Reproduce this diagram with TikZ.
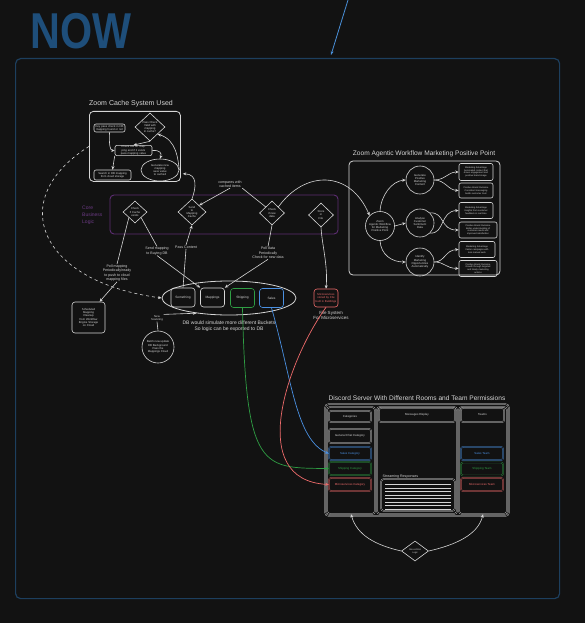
\documentclass[tikz,border=0pt]{standalone}
\usepackage{graphicx}
\usepackage{fontspec}
\setmainfont{Liberation Sans}
\usetikzlibrary{shapes.geometric,arrows.meta,calc}
\definecolor{bgc}{HTML}{121212}
\definecolor{fgc}{HTML}{D6D6D6}
\definecolor{framec}{HTML}{1D3F5E}
\definecolor{nowc}{HTML}{1E4E7A}
\definecolor{arrc}{HTML}{4A90D9}
\definecolor{purc}{HTML}{5C2D72}
\definecolor{purt}{HTML}{6B3A84}
\definecolor{grc}{HTML}{2F9E44}
\definecolor{blc}{HTML}{4A90E2}
\definecolor{rdc}{HTML}{EE6B6B}
\newcommand\mytiny{\fontsize{2.8}{3.3}\selectfont}
\newcommand\myteeny{\fontsize{2.3}{2.8}\selectfont}
\newcommand\mysmall{\fontsize{3.6}{4.3}\selectfont}
\newcommand\mytitle{\fontsize{6.6}{8}\selectfont}
\tikzset{
 ln/.style={draw=fgc, line width=0.6pt},
 arr/.style={ln, -{Stealth[length=3.5pt,width=3pt]}},
 rbox/.style={draw=fgc, line width=0.6pt, rounded corners=2pt, text=fgc, font=\mytiny, align=center, inner sep=0.5pt},
 dbox/.style={rbox, double=bgc, double distance=0.7pt, line width=0.35pt},
 dia/.style={diamond, draw=fgc, line width=0.6pt, text=fgc, font=\mytiny, align=center, inner sep=0pt},
 circ/.style={circle, draw=fgc, line width=0.6pt, text=fgc, font=\mytiny, align=center, inner sep=0pt},
 lbl/.style={text=fgc, font=\mysmall, align=center, inner sep=0.5pt},
 ttl/.style={text=fgc, font=\mytitle, inner sep=0pt},
 bucket/.style={rbox, rounded corners=3pt, minimum width=24pt, minimum height=19pt, font=\fontsize{3.2}{3.8}\selectfont},
 kbox/.style={dbox, minimum width=42pt, font=\fontsize{2.9}{3.4}\selectfont},
 abx/.style={rbox, minimum height=16pt, font=\myteeny},
 colarr/.style={line width=0.7pt, -{Stealth[length=3.5pt,width=3pt]}},
}
\begin{document}
\begin{tikzpicture}[x=1pt,y=-1pt]
\fill[bgc] (0,0) rectangle (585,623);
\useasboundingbox (0,0) rectangle (585,623);

% title and frame
\node[text=nowc, font=\fontsize{48}{48}\selectfont\bfseries, anchor=west, inner sep=0pt] (now) at (30,31) {\scalebox{0.86}[1.05]{NOW}};
\node[draw=framec, line width=1.2pt, rounded corners=5pt, minimum width=544pt, minimum height=540pt, anchor=north west, inner sep=0pt] (frame) at (15,58) {};
\coordinate (tstart) at (348,0);
\coordinate (tend) at (331,55);
\draw[draw=arrc, line width=0.8pt, -{Stealth[length=4pt,width=3pt]}] (tstart) -- (tend);

% Zoom cache system
\node[ttl, font=\fontsize{7}{8}\selectfont] (cttl) at (131,104) {Zoom Cache System Used};
\node[rbox, line width=0.8pt, rounded corners=4pt, minimum width=91pt, minimum height=70pt, anchor=north west] (cbox) at (89,111) {};
\node[rbox, minimum width=31pt, minimum height=8pt, text width=29pt] (c1) at (109.5,128) {Key pass check in DB mapping found or not};
\node[dia, minimum width=30pt, minimum height=28pt] (cd) at (150,127) {Pass Check\\Valid with\\mapping\\in cache?};
\node[rbox, minimum width=37pt, minimum height=9pt, text width=35pt] (c2) at (133.5,150.5) {Check DB on mapping and if it exists pass mapping value};
\node[ellipse, draw=fgc, line width=0.6pt, text=fgc, font=\mytiny, align=center, inner sep=0pt, minimum width=38pt, minimum height=22pt] (ce) at (160,170) {Generate new\\mapping\\save value\\to cached};
\node[rbox, minimum width=37pt, minimum height=10pt, text width=35pt] (c3) at (112.5,175) {Search in DB mapping from cloud storage};
\draw[arr] (c1.south) .. controls (109,145) and (110,150.5) .. (c2.west);
\draw[arr] (cd.south) -- (c2.north);
\draw[arr] (c2.east) .. controls (160,150) and (162,153) .. (ce.north);
\draw[arr] (ce.east) .. controls (178,160) and (177,140) .. (cd.south east);
\draw[arr] (c2.south west) -- (c3.north);

% core business logic
\node[draw=purc, line width=0.9pt, rounded corners=4pt, minimum width=228pt, minimum height=39pt, inner sep=0pt] (core) at (224,214.5) {};
\node[text=purt, font=\fontsize{5}{7.2}\selectfont, align=left, anchor=west, inner sep=0pt] (corelbl) at (82,215) {Core\\Business\\Logic};
\node[dia, minimum width=24pt, minimum height=22pt] (d1) at (135,212) {Check\\if Cache\\exists};
\node[dia, minimum width=28pt, minimum height=26pt] (d2) at (192,212) {Send\\to\\Mapping\\Cache};
\node[dia, minimum width=25pt, minimum height=24pt] (d3) at (272,213) {Check\\if new\\data};
\node[dia, minimum width=25pt, minimum height=24pt] (d4) at (321,215) {Store\\in\\File};
\node[lbl] (cmp) at (230,184) {compares with\\cached items};

% agentic workflow nodes
\node[ttl] (attl) at (424,154) {Zoom Agentic Workflow Marketing Positive Point};
\node[rbox, line width=0.8pt, rounded corners=4pt, minimum width=151pt, minimum height=114pt] (abox) at (424.5,218) {};
\node[circ, minimum size=29pt] (a0) at (380,226) {Zoom\\Agentic Workflow\\for Marketing\\Positive Point};
\node[circ, minimum size=28pt] (a1) at (420,180) {Generate\\Positive\\Marketing\\Content};
\node[circ, minimum size=28pt] (a2) at (420,223) {Analyse\\Customer\\Sentiment\\Data};
\node[circ, minimum size=28pt] (a3) at (420,262) {Identify\\Marketing\\Opportunities\\Automatically};
\node[abx, minimum width=34pt, minimum height=17pt] (r1) at (476,172) {Marketing Advantage\\Automated content that\\drives engagement and\\positive brand image};
\node[abx, minimum width=34pt, minimum height=15pt] (r2) at (476,190.5) {Positive Brand Outcome\\Consistent messaging\\builds customer trust};
\node[abx, minimum width=34pt] (r3) at (476,210.5) {Marketing Advantage\\Insights from customer\\feedback in real time};
\node[abx, minimum width=38pt] (r4) at (478,230) {Positive Brand Outcome\\Better understanding of\\customer needs and\\improved satisfaction};
\node[abx, minimum width=36pt] (r5) at (477,249.5) {Marketing Advantage\\Faster campaigns with\\less manual work};
\node[abx, minimum width=38pt] (r6) at (478,268.5) {Positive Brand Outcome\\Growth through targeted\\and timely marketing\\actions};
\draw[arr] (a0.north) .. controls (381,195) and (392,181) .. (a1.west);
\draw[arr] (a0.east) -- (a2.west);
\draw[arr] (a0.south) .. controls (381,255) and (392,262) .. (a3.west);
\draw[arr] (a1.east) .. controls (445,180) and (448,172) .. (r1.west);
\draw[arr] (a1.east) .. controls (445,180) and (448,190) .. (r2.west);
\draw[arr] (a2.south east) .. controls (445,234) and (440,211) .. (r3.west);
\draw[arr] (a2.north east) .. controls (445,212) and (440,230) .. (r4.west);
\draw[arr] (a3.east) .. controls (445,262) and (445,250) .. (r5.west);
\draw[arr] (a3.east) .. controls (445,262) and (445,268) .. (r6.west);

\draw[arr] (cmp.south) -- (d2.north east);
\draw[ln] (cmp.south east) -- (d3.north west);
\draw[arr] (d2.north) .. controls (196,188) and (198,174) .. ($(cbox.south east)+(2,-8)$);
\draw[arr] (d3.north east) .. controls (305,170) and (350,170) .. (a0.north west);

% labels on links
\node[lbl] (l1) at (117,273) {Poll mapping\\Periodically/ready\\to push to cloud\\mapping files};
\node[lbl] (l2) at (157,251) {Send mapping\\to Buying DB};
\node[lbl] (l3) at (186,247) {Pass Content};
\node[lbl] (l4) at (268,253) {Poll data\\Periodically\\Check for new data};

% buckets
\node[ellipse, draw=fgc, line width=0.8pt, minimum width=134pt, minimum height=34pt, inner sep=0pt] (be) at (229,298) {};
\node[bucket] (b1) at (183,297.5) {Something};
\node[bucket] (b2) at (212.5,297.5) {Mappings};
\node[bucket, draw=grc] (b3) at (242.5,298) {Shipping};
\node[bucket, draw=blc] (b4) at (271.5,298) {Sales};
\node[lbl, font=\fontsize{5}{6}\selectfont] (becap) at (229,326) {DB would simulate more different Buckets\\So logic can be exported to DB};

% red file box
\node[rbox, draw=rdc, text=rdc, rounded corners=3pt, minimum width=24pt, minimum height=18pt, text width=22pt] (rb) at (326,298) {Microservices stored by File built in Buildings};
\node[lbl, font=\fontsize{4.5}{5}\selectfont] (rbcap) at (331,315) {File System\\For Microservices};
\draw[arr] (d4.south) .. controls (322,245) and (328,265) .. (rb.north);

% left box and scanning
\node[rbox, rounded corners=3pt, minimum width=33pt, minimum height=31pt, text width=30pt] (lb) at (88.5,317.5) {Scheduled\\Mapping\\Cleanup\\from Workflow\\Engine Storage\\on Cloud};
\node[lbl, font=\mytiny] (ns) at (157,318) {New\\Scanning};
\node[circ, minimum size=32pt] (sc) at (158,347) {Batch new update\\DB Background\\Pass the\\Mappings Cloud};

\draw[ln] (d1.south west) -- (l1.north);
\draw[arr] (l1.south) -- (lb.55);
\draw[ln] (d1.south east) -- (l2.north);
\draw[arr] (l2.south) -- (b2.north west);
\draw[ln] (b1.north) -- (l3.south);
\draw[arr] (l3.north) -- (d2.south);
\draw[ln] (d3.south) -- (l4.north);
\draw[arr] (l4.south) -- (b2.north east);

\draw[ln] (sc.north) -- (ns.south);
\draw[arr] (ns.north east) -- (be.205);
\draw[ln, dashed, -{Stealth[length=3.5pt,width=3pt]}] (cbox.west) .. controls (4,200) and (40,282) .. (be.west);

% discord server
\node[ttl] (dttl) at (417,398) {Discord Server With Different Rooms and Team Permissions};
\node[dbox, rounded corners=4pt, minimum width=184pt, minimum height=112pt] (dd) at (417,460) {};
\node[dbox, rounded corners=3pt, minimum width=48pt, minimum height=107pt] (dl) at (351,460.5) {};
\node[dbox, rounded corners=3pt, minimum width=80pt, minimum height=107pt] (dm) at (417,460.5) {};
\node[dbox, rounded corners=3pt, minimum width=48pt, minimum height=107pt] (dr) at (483,460.5) {};
\node[kbox, minimum height=11pt] (k1) at (350,416.5) {Categories};
\node[kbox, minimum height=14pt] (k2) at (350,436) {General Chat Category};
\node[kbox, minimum height=13pt, draw=blc, text=blc] (k3) at (350,453.5) {Sales Category};
\node[kbox, minimum height=13pt, draw=grc, text=grc] (k4) at (350,468.5) {Shipping Category};
\node[kbox, minimum height=13pt, draw=rdc, text=rdc] (k5) at (350,484.5) {Microservices Category};
\node[kbox, minimum width=76pt, minimum height=14pt] (m1) at (417,415) {Messages Display};
\node[lbl, anchor=south west, font=\fontsize{3.6}{4}\selectfont] (srl) at (382,479) {Streaming Responses};
\node[dbox, rounded corners=3pt, minimum width=74pt, minimum height=32pt] (m2) at (418,495) {};
\foreach \yy in {484.5,488,491.5,495,498.5,502,505.5,509} {
  \draw[fgc, line width=0.5pt] (385,\yy) -- (451,\yy);
}
\node[kbox, minimum width=43pt, minimum height=14pt] (t1) at (482.5,415) {Teams};
\node[kbox, minimum height=13pt, draw=blc, text=blc] (t2) at (482,453.5) {Sales Team};
\node[kbox, minimum height=13pt, draw=grc, text=grc] (t3) at (482,469) {Shipping Team};
\node[kbox, minimum height=13pt, draw=rdc, text=rdc] (t4) at (482,484.5) {Microservices Team};

\draw[colarr, draw=grc] (b3.south) .. controls (246,470) and (262,468) .. (k4.west);
\draw[colarr, draw=blc] (b4.south) .. controls (292,380) and (296,440) .. (k3.west);
\draw[colarr, draw=rdc] (rb.south) .. controls (288,360) and (245,480) .. (k5.west);

% bottom diamond
\node[dia, minimum width=27pt, minimum height=20pt, font=\myteeny] (bd) at (415,551) {Discord Bot\\Logic};
\draw[arr] (bd.west) .. controls (375,545) and (357,535) .. (dl.south);
\draw[arr] (bd.east) .. controls (455,545) and (478,535) .. (dr.south);
\end{tikzpicture}
\end{document}
